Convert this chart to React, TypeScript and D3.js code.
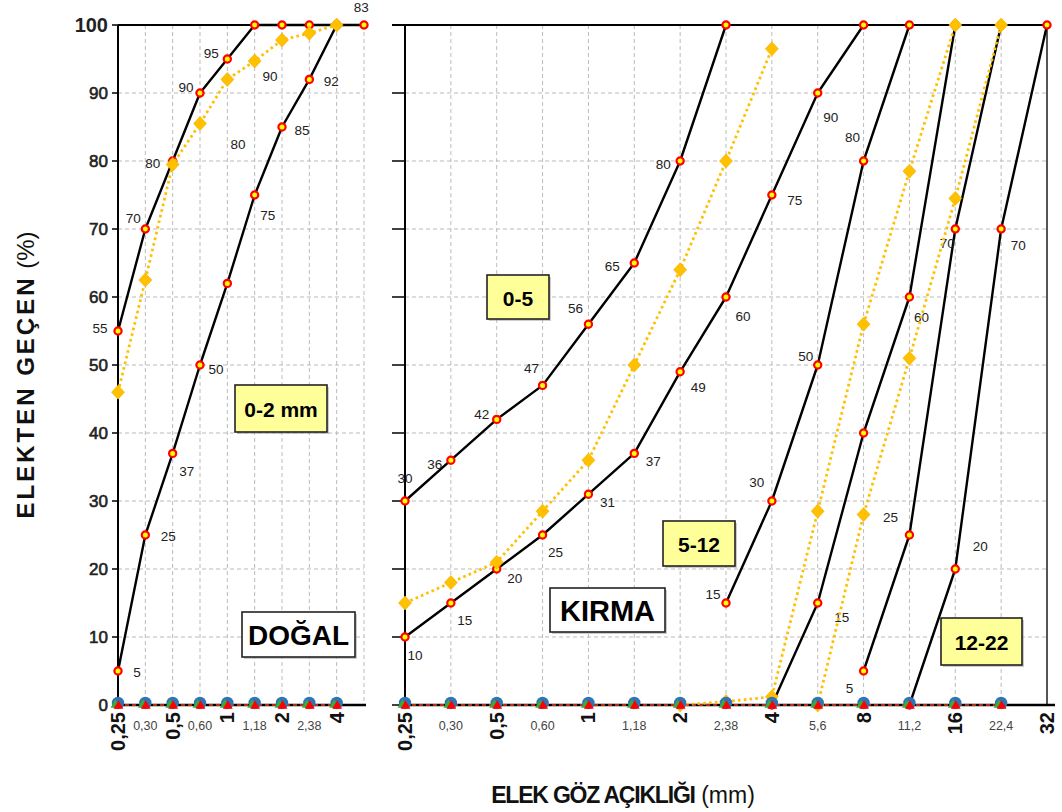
import React from 'react';
import * as d3 from 'd3';

// Sieve openings (mm) for the natural-sand panel and the crushed-aggregate panel
const LEFT_SIEVES = ['0,25', '0,30', '0,5', '0,60', '1', '1,18', '2', '2,38', '4', ''];
const RIGHT_SIEVES = ['0,25', '0,30', '0,5', '0,60', '1', '1,18', '2', '2,38', '4', '5,6', '8', '11,2', '16', '22,4', '32'];
const MAJOR_SIEVES = ['0,25', '0,5', '1', '2', '4', '8', '16', '32'];
const Y_TICKS = [0, 10, 20, 30, 40, 50, 60, 70, 80, 90, 100];

const N = null;

// DOĞAL (natural sand) – passing %, limit curves and the 0-2 mm gradation
const DOGAL_UPPER = [55, 70, 80, 90, 95, 100, 100, 100, 100, 100];
const DOGAL_LOWER = [5, 25, 37, 50, 62, 75, 85, 92, 100, N];
const DOGAL_0_2 = [46, 62.5, 79.5, 85.5, 92, 94.7, 97.8, 98.8, 100, N];
const DOGAL_BASE = [0, 0, 0, 0, 0, 0, 0, 0, 0, N];

// KIRMA (crushed aggregate) – limit curves and gradations of 0-5, 5-12, 12-22
const K05_UPPER = [30, 36, 42, 47, 56, 65, 80, 100, N, N, N, N, N, N, N];
const K05_LOWER = [10, 15, 20, 25, 31, 37, 49, 60, 75, 90, 100, N, N, N, N];
const K05_MIX = [15, 18, 21, 28.5, 36, 50, 64, 80, 96.5, N, N, N, N, N, N];
const K512_UPPER = [N, N, N, N, N, N, N, 15, 30, 50, 80, 100, N, N, N];
const K512_LOWER = [N, N, N, N, N, N, N, N, 0, 15, 40, 60, 100, N, N];
const K512_MIX = [N, N, N, N, N, N, 0, 0.5, 1.2, 28.5, 56, 78.5, 100, N, N];
const K1222_UPPER = [N, N, N, N, N, N, N, N, N, N, 5, 25, 70, 100, N];
const K1222_LOWER = [N, N, N, N, N, N, N, N, N, N, N, 0, 20, 70, 100];
const K1222_MIX = [N, N, N, N, N, N, N, N, N, 0, 28, 51, 74.5, 100, N];
const KIRMA_BASE = [0, 0, 0, 0, 0, 0, 0, 0, 0, 0, 0, 0, 0, 0, N];

// Which points carry a value label, and where the label sits relative to its point: [index, dx, dy]
const LBL_DOGAL_UPPER = [[0, -18, -3], [1, -12, -11], [2, -20, 2], [3, -14, -6], [4, -16, -6]];
const LBL_DOGAL_LOWER = [[0, 19, 1], [1, 23, 1], [2, 14, 18], [3, 16, 4], [5, 13, 20], [6, 20, 3], [7, 22, 2]];
const LBL_K05_UPPER = [[0, 0, -23], [1, -16, 4], [2, -15, -5], [3, -11, -17], [4, -13, -16], [5, -22, 3], [6, -17, 3]];
const LBL_K05_LOWER = [[0, 10, 18], [1, 14, 17], [2, 18, 9], [3, 13, 17], [4, 19, 8], [5, 19, 8], [6, 18, 16], [7, 17, 19], [8, 23, 5], [9, 13, 24]];
const LBL_K512_UPPER = [[7, -13, -9], [8, -15, -19], [9, -12, -9], [10, -11, -24]];
const LBL_K512_LOWER = [[9, 24, 14], [11, 12, 20]];
const LBL_K1222_UPPER = [[10, -14, 17], [11, -19, -18], [12, -8, 14]];
const LBL_K1222_LOWER = [[12, 25, -23], [13, 17, 16]];

// Loose value notes in the natural-sand panel: [text, sieve index, percent]
const DOGAL_NOTES: [string, number, number][] = [['90', 5.56, 92.4], ['80', 4.39, 82.4], ['83', 8.9, 102.6]];

const FONT = 'Liberation Sans, Arial, sans-serif';
const GOLD = '#FFC000';

const y = d3.scaleLinear().domain([0, 100]).range([705, 25]);
const xL = d3.scaleLinear().domain([0, 9]).range([118, 364]);
const xR = d3.scaleLinear().domain([0, 14]).range([405, 1047]);

type Vals = (number | null)[];

function pathOf(vals: Vals, x: d3.ScaleLinear<number, number>) {
  return (
    d3
      .line<number | null>()
      .defined((v) => v !== null)
      .x((_, i) => x(i))
      .y((v) => y(v as number))(vals) || ''
  );
}

function LimitCurve({ vals, x, labels }: { vals: Vals; x: any; labels: number[][] }) {
  return (
    <g>
      <path d={pathOf(vals, x)} fill="none" stroke="#000" strokeWidth={2.4} strokeLinejoin="round" />
      {vals.map((v, i) =>
        v === null ? null : (
          <circle key={i} cx={x(i)} cy={y(v)} r={3.6} fill="#FFFF00" stroke="#FF0000" strokeWidth={2.2} />
        )
      )}
      {labels.map(([i, dx, dy]) => (
        <text key={'l' + i} x={x(i) + dx} y={y(vals[i] as number) + dy} textAnchor="middle" dominantBaseline="central"
          fontFamily={FONT} fontSize={13.5} fill="#222">
          {String(vals[i])}
        </text>
      ))}
    </g>
  );
}

function MixCurve({ vals, x }: { vals: Vals; x: any }) {
  const d = 'M0,-7L6.5,0L0,7L-6.5,0Z';
  return (
    <g>
      <path d={pathOf(vals, x)} fill="none" stroke={GOLD} strokeWidth={2.8} strokeDasharray="2.6,3.2" />
      {vals.map((v, i) =>
        v === null ? null : (
          <path key={i} d={d} transform={`translate(${x(i)},${y(v)})`} fill={GOLD} stroke="#F2AE00" strokeWidth={0.6} />
        )
      )}
    </g>
  );
}

function BaseMarks({ vals, x }: { vals: Vals; x: any }) {
  const idx = vals.map((v, i) => (v === null ? -1 : i)).filter((i) => i >= 0);
  const x0 = x(idx[0]);
  const x1 = x(idx[idx.length - 1]);
  const tri = d3.symbol().type(d3.symbolTriangle).size(42)() || '';
  return (
    <g>
      <line x1={x0} x2={x1} y1={y(0)} y2={y(0)} stroke="#E8401C" strokeWidth={1.6} strokeDasharray="4,3" />
      {idx.map((i) => (
        <g key={i} transform={`translate(${x(i)},${y(0)})`}>
          <circle cx={0} cy={-2} r={6.2} fill="#2E75B6" />
          <path d={tri} transform="translate(-2.5,0)" fill="#3BAA3B" />
          <path d={tri} transform="translate(0.5,1)" fill="#FF0000" />
        </g>
      ))}
    </g>
  );
}

function Grid({ x, n, x0, x1 }: { x: any; n: number; x0: number; x1: number }) {
  return (
    <g stroke="#BBBBBB" strokeWidth={1} strokeDasharray="4,3">
      {Y_TICKS.filter((t) => t > 0 && t < 100).map((t) => (
        <line key={'h' + t} x1={x0} x2={x1} y1={y(t)} y2={y(t)} />
      ))}
      {d3.range(1, n + 1).map((i) => (
        <line key={'v' + i} x1={x(i)} x2={x(i)} y1={y(100)} y2={y(0)} />
      ))}
    </g>
  );
}

function SieveLabels({ sieves, x }: { sieves: string[]; x: any }) {
  return (
    <g fontFamily={FONT}>
      {sieves.map((s, i) => {
        if (!s) return null;
        if (MAJOR_SIEVES.includes(s)) {
          return (
            <text key={i} transform={`translate(${x(i)},712) rotate(-90)`} textAnchor="end" dominantBaseline="central"
              fontSize={20} fontWeight="bold" fill="#111">
              {s}
            </text>
          );
        }
        return (
          <text key={i} x={x(i)} y={726} textAnchor="middle" dominantBaseline="central" fontSize={12.5} fill="#444">
            {s}
          </text>
        );
      })}
    </g>
  );
}

function Tag({ x0, y0, x1, y1, text, fill, size }: { x0: number; y0: number; x1: number; y1: number; text: string; fill: string; size: number }) {
  return (
    <g>
      <rect x={x0 + 2} y={y0 + 2} width={x1 - x0} height={y1 - y0} fill="#999" opacity={0.5} />
      <rect x={x0} y={y0} width={x1 - x0} height={y1 - y0} fill={fill} stroke="#222" strokeWidth={1.6} />
      <text x={(x0 + x1) / 2} y={(y0 + y1) / 2 + 1} textAnchor="middle" dominantBaseline="central" fontFamily={FONT}
        fontWeight="bold" fontSize={size} fill="#000">
        {text}
      </text>
    </g>
  );
}

export default function App() {
  return (
    <svg width={1062} height={812} viewBox="0 0 1062 812" style={{ position: 'absolute', left: 0, top: 0, background: '#fff' }}>
      <rect width={1062} height={812} fill="#fff" />

      {/* ---- DOĞAL panel ---- */}
      <Grid x={xL} n={9} x0={118} x1={364} />
      <line x1={118} x2={364} y1={y(100)} y2={y(100)} stroke="#000" strokeWidth={2} />
      <line x1={118} x2={118} y1={y(100)} y2={y(0)} stroke="#000" strokeWidth={2} />
      <line x1={118} x2={366} y1={y(0)} y2={y(0)} stroke="#000" strokeWidth={2.4} />
      {Y_TICKS.map((t) => (
        <g key={t}>
          <line x1={112} x2={118} y1={y(t)} y2={y(t)} stroke="#000" strokeWidth={1.5} />
          <text x={108} y={y(t)} textAnchor="end" dominantBaseline="central" fontFamily={FONT}
            fontSize={t === 100 ? 20 : 17} fontWeight={t === 100 ? 'bold' : 'normal'} stroke={t === 100 ? 'none' : '#222'}
            strokeWidth={0.6} fill="#222">
            {t}
          </text>
        </g>
      ))}
      <SieveLabels sieves={LEFT_SIEVES} x={xL} />
      <LimitCurve vals={DOGAL_UPPER} x={xL} labels={LBL_DOGAL_UPPER} />
      <LimitCurve vals={DOGAL_LOWER} x={xL} labels={LBL_DOGAL_LOWER} />
      <MixCurve vals={DOGAL_0_2} x={xL} />
      <BaseMarks vals={DOGAL_BASE} x={xL} />
      {DOGAL_NOTES.map(([t, i, v]) => (
        <text key={t} x={xL(i)} y={y(v)} textAnchor="middle" dominantBaseline="central" fontFamily={FONT} fontSize={13.5} fill="#222">
          {t}
        </text>
      ))}
      <Tag x0={235} y0={385} x1={327} y1={432} text="0-2 mm" fill="#FFFF99" size={21} />
      <Tag x0={242} y0={612} x1={355} y1={657} text="DOĞAL" fill="#fff" size={28} />

      {/* ---- KIRMA panel ---- */}
      <Grid x={xR} n={13} x0={405} x1={1047} />
      <line x1={392} x2={1047} y1={y(100)} y2={y(100)} stroke="#000" strokeWidth={2} />
      <line x1={405} x2={405} y1={y(100)} y2={y(0)} stroke="#000" strokeWidth={2} />
      <line x1={1047} x2={1047} y1={y(100)} y2={y(0)} stroke="#555" strokeWidth={2} />
      <line x1={405} x2={1055} y1={y(0)} y2={y(0)} stroke="#000" strokeWidth={2.4} />
      {Y_TICKS.map((t) => (
        <line key={t} x1={392} x2={405} y1={y(t)} y2={y(t)} stroke="#000" strokeWidth={1.5} />
      ))}
      <SieveLabels sieves={RIGHT_SIEVES} x={xR} />
      <LimitCurve vals={K05_UPPER} x={xR} labels={LBL_K05_UPPER} />
      <LimitCurve vals={K05_LOWER} x={xR} labels={LBL_K05_LOWER} />
      <LimitCurve vals={K512_UPPER} x={xR} labels={LBL_K512_UPPER} />
      <LimitCurve vals={K512_LOWER} x={xR} labels={LBL_K512_LOWER} />
      <LimitCurve vals={K1222_UPPER} x={xR} labels={LBL_K1222_UPPER} />
      <LimitCurve vals={K1222_LOWER} x={xR} labels={LBL_K1222_LOWER} />
      <MixCurve vals={K05_MIX} x={xR} />
      <MixCurve vals={K512_MIX} x={xR} />
      <MixCurve vals={K1222_MIX} x={xR} />
      <BaseMarks vals={KIRMA_BASE} x={xR} />
      <Tag x0={487} y0={275} x1={549} y1={319} text="0-5" fill="#FFFF99" size={21} />
      <Tag x0={663} y0={521} x1={735} y1={566} text="5-12" fill="#FFFF99" size={21} />
      <Tag x0={941} y0={618} x1={1022} y1={665} text="12-22" fill="#FFFF99" size={21} />
      <Tag x0={550} y0={588} x1={665} y1={632} text="KIRMA" fill="#fff" size={29} />

      {/* ---- axis titles ---- */}
      <text transform="translate(25,375) rotate(-90)" textAnchor="middle" dominantBaseline="central" fontFamily={FONT} fontSize={24} fill="#111">
        <tspan fontWeight="bold" letterSpacing={3}>ELEKTEN GEÇEN</tspan>
        <tspan> (%)</tspan>
      </text>
      <text x={623} y={803} textAnchor="middle" fontFamily={FONT} fontSize={23} fill="#111">
        <tspan fontWeight="bold" letterSpacing={-1.2}>ELEK GÖZ AÇIKLIĞI</tspan>
        <tspan> (mm)</tspan>
      </text>
    </svg>
  );
}
